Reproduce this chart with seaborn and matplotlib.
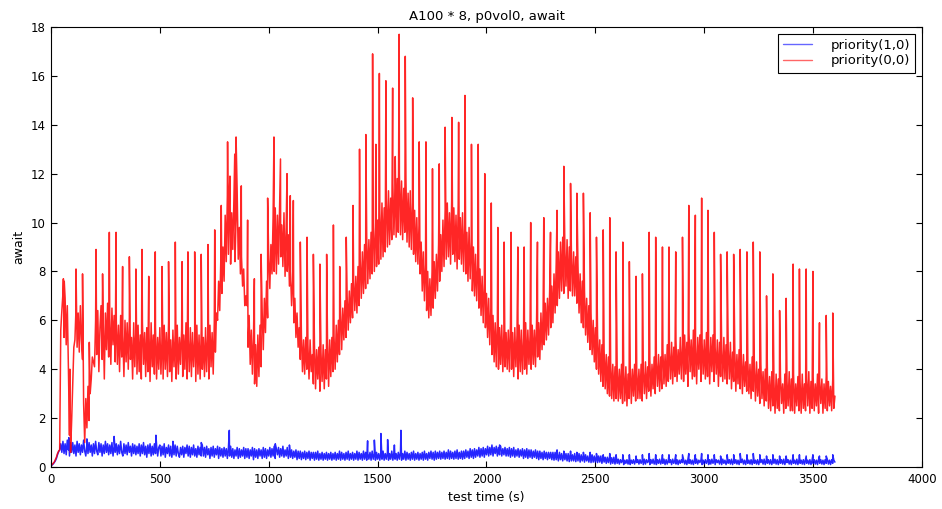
import numpy as np
import pandas as pd
import matplotlib
matplotlib.use("Agg")
import matplotlib.pyplot as plt
import seaborn as sns

# ---- data -------------------------------------------------------------
# periodic samples, one every 5 s from 0 to 3600 s (20 samples per row)
sample_step = 5

# priority(0,0): sampled await (ms)
red_base = [
    0.05, 0.1, 0.15, 0.2, 0.3, 0.4, 0.55, 0.65, 0.7, 5.6, 6.4, 7.1, 5.3, 6.9, 5.0, 6.6, 4.1, 1.3, 0.6, 1.9,
    3.4, 4.9, 5.2, 6.5, 4.9, 6.3, 4.7, 6.6, 5.2, 4.4, 2.6, 1.0, 2.8, 1.6, 3.3, 1.9, 3.0, 3.6, 4.5, 4.3,
    4.1, 6.0, 4.6, 6.4, 3.9, 5.7, 6.6, 4.4, 5.9, 3.6, 6.3, 4.8, 6.7, 4.5, 6.1, 4.2, 6.5, 5.0, 6.2, 4.3,
    6.0, 4.2, 5.8, 3.9, 6.2, 4.5, 5.4, 3.7, 6.0, 4.3, 5.9, 4.0, 6.1, 4.4, 5.3, 3.6, 5.9, 4.1, 5.6, 3.8,
    5.8, 3.9, 5.4, 3.6, 5.9, 4.2, 5.5, 3.7, 5.7, 3.9, 5.6, 3.5, 5.9, 4.1, 5.4, 3.8, 5.7, 3.6, 5.3, 4.0,
    5.7, 3.8, 5.3, 3.6, 5.8, 4.0, 5.5, 3.7, 5.9, 3.9, 5.2, 3.5, 5.6, 4.1, 5.4, 3.6, 5.8, 3.8, 5.3, 4.2,
    5.6, 3.7, 5.4, 4.0, 5.9, 3.6, 5.3, 3.9, 5.7, 3.7, 5.5, 4.1, 5.2, 3.5, 5.8, 3.8, 5.4, 3.6, 5.6, 4.0,
    5.3, 3.7, 5.7, 3.9, 5.4, 3.6, 5.8, 4.1, 5.5, 3.8, 5.9, 4.7, 6.3, 6.0, 7.6, 6.4, 8.5, 7.1, 9.0, 7.6,
    10.3, 8.4, 11.1, 8.7, 11.4, 8.3, 10.4, 8.9, 10.9, 8.4, 10.1, 11.3, 8.5, 9.8, 7.9, 8.6, 7.4, 8.1, 6.6, 7.0,
    6.6, 4.9, 6.2, 4.2, 5.6, 3.8, 5.3, 3.4, 5.0, 3.3, 5.4, 3.7, 5.8, 4.1, 6.3, 4.8, 6.9, 5.5, 7.6, 6.1,
    8.5, 7.3, 9.1, 7.9, 10.2, 8.0, 10.6, 7.9, 10.3, 8.3, 10.7, 8.6, 9.9, 8.2, 10.4, 7.8, 9.8, 8.0, 9.5, 7.4,
    8.0, 6.6, 7.6, 5.9, 6.9, 5.3, 6.3, 4.9, 5.7, 4.4, 5.4, 3.9, 5.2, 3.8, 5.3, 4.0, 5.0, 3.6, 5.2, 3.9,
    4.6, 3.4, 5.0, 3.2, 4.8, 3.6, 4.9, 3.1, 4.7, 3.5, 5.0, 3.2, 4.8, 3.6, 5.1, 3.3, 5.2, 3.7, 5.3, 3.9,
    5.3, 4.0, 5.8, 4.3, 6.0, 4.6, 6.3, 4.8, 6.5, 5.2, 6.8, 5.3, 7.0, 5.6, 7.2, 5.9, 7.5, 6.1, 7.6, 6.4,
    7.8, 6.3, 8.2, 6.6, 8.5, 6.9, 8.8, 7.1, 9.1, 7.3, 9.4, 7.5, 9.3, 7.7, 9.6, 7.9, 9.8, 8.0, 10.0, 8.2,
    10.1, 8.3, 10.5, 8.5, 10.8, 8.6, 10.6, 8.8, 11.0, 9.0, 11.3, 9.1, 11.0, 9.3, 11.6, 9.5, 11.4, 9.4, 11.8, 9.6,
    12.0, 9.5, 11.7, 9.3, 11.4, 9.6, 11.8, 9.2, 11.2, 9.0, 11.3, 8.9, 10.8, 8.7, 10.5, 8.4, 10.2, 8.3, 9.9, 7.9,
    9.2, 7.2, 8.8, 6.8, 8.3, 6.4, 8.0, 6.1, 7.7, 6.2, 8.0, 6.5, 8.4, 6.9, 8.7, 7.2, 9.1, 7.6, 9.5, 8.0,
    10.1, 8.2, 10.5, 8.5, 10.8, 8.6, 10.4, 8.3, 10.9, 8.7, 10.6, 8.4, 10.3, 8.1, 10.7, 8.5, 10.2, 8.3, 10.4, 8.0,
    9.9, 7.9, 9.6, 7.6, 9.8, 7.7, 9.2, 7.2, 9.0, 7.0, 8.7, 6.8, 8.3, 6.5, 8.1, 6.2, 7.8, 5.9, 7.5, 5.7,
    7.1, 5.3, 6.9, 5.0, 6.5, 4.6, 6.2, 4.3, 5.9, 4.1, 6.0, 4.0, 5.7, 4.2, 5.8, 3.9, 5.6, 4.1, 5.5, 4.0,
    5.6, 3.9, 5.8, 4.0, 5.5, 3.7, 5.7, 4.1, 5.4, 3.6, 5.8, 3.9, 5.6, 3.8, 5.3, 4.0, 5.9, 3.8, 5.6, 4.2,
    5.4, 4.0, 5.8, 4.2, 5.6, 4.1, 6.0, 4.5, 5.9, 4.4, 6.3, 4.8, 6.4, 5.0, 6.7, 5.2, 6.9, 5.4, 7.2, 5.7,
    7.4, 5.9, 7.9, 6.3, 8.3, 6.6, 8.8, 6.9, 9.2, 7.2, 9.4, 7.1, 8.9, 7.4, 9.3, 6.9, 9.0, 7.2, 8.7, 7.0,
    8.8, 7.0, 8.6, 6.7, 8.3, 6.3, 7.9, 5.9, 7.6, 5.7, 7.2, 5.4, 6.9, 5.1, 6.6, 4.8, 6.3, 4.6, 6.0, 4.3,
    5.7, 4.0, 5.4, 3.8, 5.2, 3.5, 5.0, 3.3, 4.8, 3.2, 4.6, 3.0, 4.5, 2.9, 4.3, 2.8, 4.2, 2.7, 4.1, 2.8,
    4.1, 2.7, 4.0, 2.8, 4.2, 2.6, 3.9, 2.7, 4.1, 2.5, 3.8, 2.8, 4.1, 2.6, 4.0, 2.9, 4.2, 2.7, 3.9, 2.8,
    4.0, 2.8, 4.2, 2.7, 3.9, 3.0, 4.3, 2.8, 4.1, 3.1, 4.4, 2.9, 4.2, 3.2, 4.5, 3.0, 4.3, 3.3, 4.6, 3.1,
    4.5, 3.2, 4.8, 3.4, 4.6, 3.3, 5.0, 3.5, 4.7, 3.6, 5.1, 3.4, 4.9, 3.7, 5.2, 3.5, 4.8, 3.8, 5.3, 3.6,
    5.0, 3.5, 5.4, 3.8, 5.1, 3.3, 5.5, 3.9, 5.2, 3.6, 5.6, 3.7, 5.0, 3.4, 5.3, 4.0, 5.4, 3.5, 5.1, 3.8,
    5.2, 3.6, 5.5, 3.7, 5.0, 3.4, 5.3, 3.9, 5.4, 3.5, 4.9, 3.8, 5.2, 3.3, 5.1, 3.7, 4.8, 3.5, 5.3, 3.6,
    5.0, 3.4, 4.8, 3.6, 5.1, 3.2, 4.7, 3.5, 4.9, 3.1, 4.6, 3.4, 4.8, 3.2, 4.5, 3.0, 4.6, 3.3, 4.3, 3.1,
    4.4, 3.0, 4.2, 2.8, 4.5, 3.1, 4.1, 2.7, 4.3, 2.9, 4.0, 2.6, 4.2, 2.8, 3.9, 2.5, 4.0, 2.7, 3.8, 2.4,
    3.7, 2.3, 3.9, 2.5, 3.5, 2.2, 3.8, 2.4, 3.6, 2.3, 3.7, 2.6, 3.4, 2.2, 3.8, 2.4, 3.5, 2.5, 3.9, 2.3,
    3.6, 2.3, 3.8, 2.2, 3.4, 2.5, 3.7, 2.3, 3.5, 2.2, 3.8, 2.4, 3.4, 2.3, 3.6, 2.5, 3.9, 2.2, 3.5, 2.4,
    3.7, 2.3, 3.4, 2.5, 3.8, 2.2, 3.5, 2.6, 3.6, 2.2, 3.4, 2.4, 3.7, 2.3, 3.5, 2.5, 3.3, 2.3, 3.6, 2.4,
    2.9,
]

# priority(0,0): short bursts between the periodic samples
red_spike_time = [
    57, 61, 87, 115, 145, 176, 207, 237, 268, 299, 329, 360, 390, 418,
    449, 479, 510, 540, 571, 602, 629, 660, 690, 721, 752, 782, 811,
    822, 844, 850, 874, 903, 934, 965, 995, 1024, 1054, 1084, 1099,
    1113, 1145, 1176, 1205, 1235, 1266, 1297, 1326, 1356, 1387, 1417,
    1446, 1477, 1492, 1508, 1538, 1569, 1581, 1599, 1627, 1661, 1691,
    1722, 1752, 1783, 1810, 1841, 1872, 1901, 1931, 1962, 1992, 2022,
    2052, 2081, 2113, 2144, 2173, 2203, 2234, 2263, 2294, 2324, 2355,
    2386, 2415, 2445, 2476, 2505, 2536, 2566, 2595, 2626, 2656, 2687,
    2716, 2747, 2777, 2808, 2838, 2869, 2900, 2929, 2959, 2988, 3017,
    3046, 3075, 3105, 3135, 3165, 3196, 3225, 3255, 3286, 3315, 3346,
    3376, 3408, 3437, 3468, 3499, 3529, 3560, 3590,
]
red_spike_await = [
    7.7, 7.6, 4.0, 8.1, 7.9, 5.1, 8.9, 7.9, 9.6, 9.6, 8.2, 8.6, 8.1, 8.9,
    7.8, 8.8, 8.2, 8.4, 9.2, 8.4, 8.8, 8.8, 8.7, 9.1, 9.7, 10.7, 13.3,
    11.9, 12.8, 13.5, 11.5, 10.1, 7.7, 8.7, 11.0, 13.5, 12.6, 12.0, 11.1,
    10.9, 9.2, 9.4, 8.7, 8.3, 8.7, 9.9, 8.2, 9.4, 10.7, 13.0,
    13.6, 16.9, 13.2, 16.1, 15.8, 15.5, 12.7, 17.7, 16.8, 15.1, 13.3,
    13.3, 12.2, 12.4, 13.9, 14.3, 14.1, 15.2, 13.2, 13.2, 12.0, 10.8,
    9.8, 9.2, 9.6, 9.0, 9.0, 10.0, 9.2, 10.2, 9.6, 10.5, 12.3,
    11.6, 11.2, 11.2, 10.4, 9.4, 9.7, 10.2, 8.8, 9.2, 8.4, 7.8,
    7.9, 9.6, 9.4, 9.0, 9.0, 8.8, 9.4, 10.7, 10.3, 11.0, 10.5,
    9.6, 8.7, 8.8, 8.7, 8.9, 8.8, 9.2, 8.8, 7.0, 7.9, 6.4,
    6.9, 8.3, 8.1, 8.1, 8.0, 5.9, 6.2, 6.3,
]

# priority(1,0): sampled await (ms)
blue_base = [
    0.05, 0.08, 0.12, 0.18, 0.25, 0.35, 0.5, 0.62, 0.7, 0.95, 0.6, 1.05, 0.55, 0.95, 0.5, 1.1, 0.7, 0.45, 1.0, 0.6,
    1.0, 0.55, 0.9, 0.45, 1.05, 0.6, 0.95, 0.5, 0.9, 0.6, 1.1, 0.65, 0.45, 0.95, 0.55, 1.0, 0.6, 0.9, 0.45, 0.95,
    0.55, 1.05, 0.65, 0.5, 1.0, 0.6, 0.95, 0.45, 0.9, 0.55, 1.05, 0.6, 0.95, 0.5, 0.9, 0.55, 1.0, 0.45, 0.85, 0.6,
    0.95, 0.5, 0.9, 0.55, 1.05, 0.6, 0.45, 0.95, 0.55, 0.9, 0.5, 1.0, 0.6, 0.85, 0.45, 0.95, 0.55, 0.9, 0.5, 0.85,
    0.55, 0.95, 0.45, 0.9, 0.55, 1.0, 0.5, 0.85, 0.4, 0.9, 0.55, 0.95, 0.45, 0.85, 0.5, 0.95, 0.55, 0.9, 0.45, 0.8,
    0.9, 0.45, 0.85, 0.5, 0.95, 0.4, 0.8, 0.55, 0.9, 0.45, 0.85, 0.4, 0.8, 0.5, 0.9, 0.45, 0.85, 0.55, 0.4, 0.8,
    0.5, 0.85, 0.4, 0.8, 0.55, 0.9, 0.45, 0.85, 0.4, 0.8, 0.5, 0.9, 0.45, 0.75, 0.4, 0.85, 0.5, 0.8, 0.45, 0.9,
    0.45, 0.8, 0.4, 0.85, 0.5, 0.75, 0.35, 0.8, 0.45, 0.85, 0.4, 0.75, 0.5, 0.85, 0.35, 0.8, 0.45, 0.75, 0.4, 0.8,
    0.45, 0.75, 0.35, 0.8, 0.45, 0.85, 0.4, 0.75, 0.35, 0.7, 0.45, 0.8, 0.35, 0.75, 0.4, 0.7, 0.45, 0.8, 0.35, 0.75,
    0.4, 0.75, 0.35, 0.7, 0.45, 0.8, 0.3, 0.75, 0.4, 0.7, 0.35, 0.75, 0.45, 0.7, 0.35, 0.8, 0.4, 0.75, 0.35, 0.7,
    0.45, 0.8, 0.4, 0.75, 0.45, 0.85, 0.35, 0.75, 0.5, 0.8, 0.4, 0.75, 0.45, 0.85, 0.4, 0.7, 0.45, 0.8, 0.35, 0.75,
    0.4, 0.7, 0.35, 0.65, 0.4, 0.7, 0.3, 0.65, 0.35, 0.65, 0.3, 0.6, 0.35, 0.65, 0.3, 0.6, 0.35, 0.65, 0.28, 0.6,
    0.35, 0.6, 0.28, 0.6, 0.32, 0.65, 0.28, 0.55, 0.32, 0.6, 0.28, 0.55, 0.32, 0.6, 0.28, 0.55, 0.32, 0.6, 0.28, 0.55,
    0.32, 0.6, 0.28, 0.55, 0.32, 0.65, 0.28, 0.6, 0.32, 0.55, 0.28, 0.6, 0.32, 0.65, 0.28, 0.55, 0.32, 0.6, 0.28, 0.55,
    0.32, 0.65, 0.28, 0.6, 0.32, 0.55, 0.28, 0.65, 0.32, 0.6, 0.28, 0.55, 0.32, 0.6, 0.28, 0.65, 0.32, 0.55, 0.28, 0.6,
    0.32, 0.55, 0.28, 0.6, 0.32, 0.65, 0.28, 0.55, 0.32, 0.6, 0.28, 0.55, 0.32, 0.65, 0.28, 0.6, 0.32, 0.55, 0.28, 0.6,
    0.32, 0.6, 0.28, 0.55, 0.32, 0.65, 0.28, 0.6, 0.32, 0.55, 0.28, 0.6, 0.32, 0.65, 0.28, 0.55, 0.32, 0.6, 0.28, 0.55,
    0.32, 0.6, 0.28, 0.65, 0.32, 0.55, 0.28, 0.6, 0.35, 0.65, 0.32, 0.6, 0.28, 0.65, 0.32, 0.6, 0.35, 0.65, 0.32, 0.6,
    0.35, 0.65, 0.32, 0.6, 0.35, 0.7, 0.32, 0.65, 0.35, 0.6, 0.32, 0.65, 0.35, 0.7, 0.32, 0.6, 0.35, 0.65, 0.32, 0.65,
    0.35, 0.7, 0.4, 0.65, 0.35, 0.75, 0.4, 0.7, 0.35, 0.75, 0.4, 0.7, 0.45, 0.8, 0.4, 0.75, 0.45, 0.8, 0.4, 0.75,
    0.5, 0.85, 0.45, 0.8, 0.5, 0.9, 0.45, 0.8, 0.55, 0.85, 0.45, 0.8, 0.5, 0.85, 0.45, 0.75, 0.5, 0.8, 0.45, 0.75,
    0.45, 0.8, 0.4, 0.75, 0.45, 0.8, 0.4, 0.7, 0.45, 0.75, 0.4, 0.7, 0.45, 0.75, 0.35, 0.7, 0.4, 0.75, 0.35, 0.7,
    0.4, 0.7, 0.35, 0.65, 0.4, 0.7, 0.35, 0.65, 0.3, 0.65, 0.35, 0.6, 0.3, 0.65, 0.35, 0.6, 0.3, 0.6, 0.35, 0.6,
    0.3, 0.6, 0.28, 0.6, 0.3, 0.55, 0.25, 0.6, 0.3, 0.55, 0.25, 0.55, 0.3, 0.55, 0.25, 0.55, 0.22, 0.55, 0.25, 0.5,
    0.25, 0.55, 0.22, 0.5, 0.25, 0.55, 0.2, 0.5, 0.25, 0.5, 0.2, 0.5, 0.25, 0.45, 0.2, 0.45, 0.18, 0.5, 0.2, 0.45,
    0.2, 0.45, 0.18, 0.45, 0.2, 0.45, 0.15, 0.4, 0.2, 0.4, 0.15, 0.4, 0.18, 0.4, 0.12, 0.38, 0.15, 0.4, 0.12, 0.35,
    0.15, 0.32, 0.12, 0.3, 0.18, 0.32, 0.1, 0.28, 0.15, 0.3, 0.12, 0.32, 0.1, 0.28, 0.15, 0.3, 0.12, 0.28, 0.18, 0.3,
    0.12, 0.3, 0.15, 0.28, 0.1, 0.32, 0.12, 0.3, 0.18, 0.28, 0.1, 0.3, 0.15, 0.32, 0.12, 0.28, 0.1, 0.3, 0.15, 0.32,
    0.12, 0.28, 0.15, 0.32, 0.1, 0.3, 0.12, 0.28, 0.18, 0.3, 0.1, 0.32, 0.15, 0.28, 0.12, 0.3, 0.1, 0.28, 0.15, 0.3,
    0.18, 0.3, 0.12, 0.28, 0.1, 0.32, 0.15, 0.3, 0.12, 0.28, 0.1, 0.3, 0.15, 0.32, 0.12, 0.28, 0.18, 0.3, 0.1, 0.28,
    0.12, 0.3, 0.15, 0.28, 0.1, 0.3, 0.12, 0.32, 0.15, 0.28, 0.1, 0.3, 0.18, 0.28, 0.12, 0.3, 0.1, 0.32, 0.15, 0.28,
    0.1, 0.28, 0.15, 0.3, 0.12, 0.32, 0.1, 0.28, 0.15, 0.3, 0.12, 0.28, 0.1, 0.3, 0.18, 0.32, 0.12, 0.28, 0.1, 0.3,
    0.15, 0.28, 0.12, 0.3, 0.1, 0.32, 0.15, 0.28, 0.12, 0.3, 0.1, 0.28, 0.18, 0.3, 0.12, 0.32, 0.1, 0.28, 0.15, 0.3,
    0.12, 0.3, 0.1, 0.28, 0.15, 0.32, 0.12, 0.3, 0.1, 0.28, 0.15, 0.3, 0.12, 0.32, 0.1, 0.28, 0.18, 0.3, 0.12, 0.28,
    0.1, 0.3, 0.15, 0.28, 0.12, 0.32, 0.1, 0.3, 0.15, 0.28, 0.12, 0.3, 0.1, 0.32, 0.15, 0.28, 0.12, 0.3, 0.1, 0.28,
    0.15, 0.3, 0.12, 0.28, 0.1, 0.32, 0.15, 0.3, 0.12, 0.28, 0.1, 0.3, 0.15, 0.32, 0.12, 0.28, 0.1, 0.3, 0.15, 0.28,
    0.2,
]

# priority(1,0): short bursts between the periodic samples
blue_spike_time = [
    82, 165, 290, 482, 560, 690, 819, 1030, 1095, 1454, 1485, 1515,
    1546, 1577, 1607, 2060, 2324, 2355, 2386, 2415, 2445, 2476, 2505,
    2536, 2566, 2595, 2626, 2656, 2687, 2716, 2747, 2777, 2808, 2838,
    2869, 2900, 2929, 2959, 2988, 3017, 3046, 3075, 3105, 3135, 3165,
    3196, 3225, 3255, 3286, 3315, 3346, 3376, 3408, 3437, 3468, 3499,
    3529, 3560, 3590,
]
blue_spike_await = [
    1.2, 1.15, 1.25, 1.3, 1.05, 1.0, 1.5, 0.95, 0.9, 1.07, 1.1, 1.37,
    1.12, 0.9, 1.5, 0.9, 0.7, 0.65, 0.65, 0.6, 0.6, 0.6, 0.55,
    0.5, 0.55, 0.5, 0.5, 0.5, 0.45, 0.5, 0.55, 0.5, 0.5, 0.5,
    0.5, 0.5, 0.55, 0.5, 0.55, 0.5, 0.5, 0.45, 0.5, 0.5, 0.55,
    0.5, 0.55, 0.5, 0.45, 0.5, 0.45, 0.45, 0.5, 0.5, 0.45, 0.5,
    0.45, 0.45, 0.5,
]

series_labels = ["priority(1,0)", "priority(0,0)"]
series_colors = ["#0000ff", "#ff0000"]

x_ticks = [0, 500, 1000, 1500, 2000, 2500, 3000, 3500, 4000]
y_ticks = [0, 2, 4, 6, 8, 10, 12, 14, 16, 18]


def build_series(base, spike_t, spike_v, label):
    t = np.arange(len(base)) * sample_step
    frame = pd.DataFrame({
        "time": np.concatenate([t, np.asarray(spike_t, float)]),
        "await": np.concatenate([np.asarray(base, float), np.asarray(spike_v, float)]),
    })
    frame = frame.sort_values("time", kind="mergesort").reset_index(drop=True)
    frame["series"] = label
    return frame


df = pd.concat([
    build_series(blue_base, blue_spike_time, blue_spike_await, series_labels[0]),
    build_series(red_base, red_spike_time, red_spike_await, series_labels[1]),
], ignore_index=True)

# ---- style ------------------------------------------------------------
sns.set_style("white")
plt.rcParams.update({
    "font.family": ["DejaVu Sans"],
    "axes.edgecolor": "black",
    "axes.linewidth": 0.8,
    "xtick.direction": "in",
    "ytick.direction": "in",
    "xtick.top": True,
    "ytick.right": True,
    "xtick.bottom": True,
    "ytick.left": True,
    "xtick.major.size": 4,
    "ytick.major.size": 4,
    "xtick.color": "black",
    "ytick.color": "black",
    "text.color": "black",
    "axes.labelcolor": "black",
})

fig = plt.figure(figsize=(9.42, 5.09), dpi=100)
ax = fig.add_axes([0.0541, 0.0825, 0.9247, 0.8645])

sns.lineplot(
    data=df, x="time", y="await", hue="series", units="series",
    hue_order=series_labels, palette=series_colors,
    estimator=None, sort=False, linewidth=1.1, alpha=0.85, ax=ax,
)

ax.set_xlim(0, 4000)
ax.set_ylim(0, 18)
ax.set_xticks(x_ticks)
ax.set_yticks(y_ticks)
ax.tick_params(labelsize=8.5, pad=4)
ax.set_xlabel("test time (s)", fontsize=9)
ax.set_ylabel("await", fontsize=9)
ax.set_title("A100 * 8, p0vol0, await", fontsize=9.5, pad=5)

leg = ax.legend(
    loc="upper right", fontsize=9.5, frameon=True, fancybox=False,
    framealpha=1.0, edgecolor="black", handlelength=2.2,
    borderpad=0.4, labelspacing=0.2, handletextpad=1.4,
)
leg.get_frame().set_linewidth(0.8)
for line in leg.get_lines():
    line.set_linewidth(1.0)
    line.set_alpha(0.6)

fig.savefig("out.png", dpi=100)
